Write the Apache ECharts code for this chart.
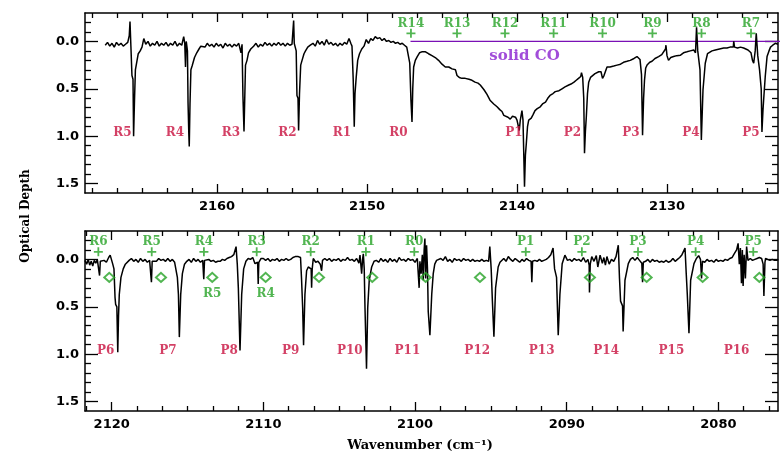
<!DOCTYPE html>
<html><head><meta charset="utf-8">
<script src="https://cdn.jsdelivr.net/npm/echarts@6/dist/echarts.min.js"></script>
<style>html,body{margin:0;padding:0;background:#fff}#c{width:780px;height:455px}</style>
</head><body><div id="c"></div>
<script>
// ---------- DATA ----------
const topTicks = [2160, 2150, 2140, 2130];
const bottomTicks = [2120, 2110, 2100, 2090, 2080];
const yTicks = [0, 0.5, 1.0, 1.5];

const topSpectrum = [
[2167.45,0.04],[2167.3,0.01],[2167.15,0.05],[2167.0,0.02],[2166.85,0.06],[2166.7,0.01],[2166.55,0.04],[2166.4,0.02],[2166.25,0.05],[2166.1,0.03],[2165.95,0.01],[2165.85,-0.06],[2165.8,-0.21],[2165.74,0.05],[2165.67,0.36],[2165.6,0.4],[2165.56,1.0],[2165.5,0.62],[2165.44,0.3],[2165.33,0.28],[2165.25,0.13],[2165.12,0.1],[2165.0,0.06],[2164.88,-0.03],
[2164.75,0.03],[2164.6,0.0],[2164.45,0.05],[2164.3,0.02],[2164.15,0.04],[2164.0,0.0],[2163.85,0.05],[2163.7,0.02],[2163.55,0.04],[2163.4,0.01],[2163.25,0.05],[2163.1,0.02],[2162.95,0.04],[2162.8,0.0],[2162.65,0.05],[2162.5,0.02],[2162.35,0.04],[2162.22,-0.05],[2162.15,0.02],[2162.1,0.27],[2162.05,0.0],[2161.97,0.1],[2161.93,0.65],[2161.88,0.97],[2161.85,1.11],[2161.8,0.66],[2161.74,0.3],[2161.66,0.26],[2161.5,0.17],[2161.35,0.12],[2161.2,0.08],[2161.08,0.05],
[2160.95,0.03],[2160.8,0.06],[2160.65,0.02],[2160.5,0.05],[2160.35,0.03],[2160.2,0.06],[2160.05,0.02],[2159.9,0.05],[2159.75,0.03],[2159.6,0.07],[2159.45,0.02],[2159.3,0.05],[2159.15,0.03],[2159.0,0.06],[2158.85,0.03],[2158.7,0.05],[2158.55,0.02],[2158.45,0.04],[2158.4,0.12],[2158.33,0.03],[2158.27,0.58],[2158.2,0.95],[2158.15,0.6],[2158.1,0.25],[2158.0,0.2],[2157.9,0.12],[2157.75,0.08],[2157.56,0.05],
[2157.4,0.02],[2157.25,0.06],[2157.1,0.03],[2156.95,0.05],[2156.8,0.01],[2156.65,0.04],[2156.5,0.02],[2156.35,0.05],[2156.2,0.02],[2156.05,0.04],[2155.9,0.01],[2155.75,0.04],[2155.6,0.02],[2155.45,0.05],[2155.3,0.02],[2155.15,0.04],[2155.0,0.03],[2154.92,0.03],[2154.89,-0.22],[2154.85,0.02],[2154.72,0.1],[2154.67,0.57],[2154.6,0.6],[2154.56,0.94],[2154.5,0.55],[2154.42,0.25],[2154.33,0.2],[2154.2,0.13],[2154.1,0.1],[2153.95,0.06],[2153.78,0.04],
[2153.6,0.02],[2153.45,0.05],[2153.3,-0.01],[2153.15,0.03],[2153.0,0.0],[2152.85,0.04],[2152.7,-0.02],[2152.55,0.03],[2152.4,0.01],[2152.25,0.04],[2152.1,0.02],[2151.95,0.05],[2151.8,0.02],[2151.65,0.04],[2151.5,0.01],[2151.35,0.03],[2151.2,-0.03],[2151.08,0.02],[2151.0,0.05],[2150.92,0.4],[2150.85,0.9],[2150.8,0.55],[2150.72,0.38],[2150.62,0.2],[2150.5,0.13],[2150.35,0.08],[2150.2,0.05],
[2150.05,-0.02],[2149.9,0.02],[2149.75,-0.03],[2149.6,-0.01],[2149.45,-0.05],[2149.3,-0.03],[2149.15,-0.04],[2149.0,-0.01],[2148.85,-0.03],[2148.7,0.0],[2148.55,-0.01],[2148.4,0.01],[2148.25,0.0],[2148.1,0.02],[2147.95,0.01],[2147.8,0.03],[2147.65,0.02],[2147.5,0.04],[2147.35,0.06],[2147.22,0.05],[2147.15,0.23],[2147.07,0.62],[2147.0,0.85],[2146.95,0.5],[2146.89,0.27],[2146.78,0.2],[2146.65,0.16],[2146.5,0.12],[2146.35,0.11],
[2146.1,0.11],[2145.9,0.13],[2145.67,0.15],[2145.45,0.17],[2145.23,0.2],[2145.0,0.24],[2144.78,0.27],[2144.55,0.27],[2144.33,0.29],[2144.1,0.3],[2144.0,0.36],[2143.85,0.38],[2143.67,0.39],[2143.45,0.39],[2143.2,0.4],[2143.0,0.41],[2142.8,0.43],[2142.6,0.44],[2142.45,0.46],[2142.2,0.51],[2142.0,0.56],[2141.8,0.62],[2141.55,0.66],[2141.33,0.69],[2141.15,0.72],[2141.0,0.74],[2140.88,0.78],[2140.78,0.8],[2140.6,0.8],[2140.45,0.82],[2140.3,0.79],[2140.1,0.8],[2140.0,0.83],[2139.9,0.83],[2139.85,0.94],[2139.78,0.83],[2139.67,0.73],[2139.6,0.83],[2139.5,1.535],[2139.44,1.2],[2139.38,1.08],[2139.3,0.9],[2139.22,0.83],[2139.05,0.81],[2138.92,0.77],[2138.8,0.73],[2138.65,0.71],[2138.45,0.69],[2138.3,0.66],[2138.1,0.64],[2137.95,0.6],[2137.8,0.57],[2137.6,0.55],[2137.45,0.53],[2137.2,0.52],[2137.0,0.5],[2136.8,0.48],[2136.55,0.46],[2136.4,0.45],[2136.2,0.43],[2136.05,0.41],[2135.9,0.39],[2135.75,0.37],[2135.7,0.33],[2135.62,0.38],[2135.55,0.6],[2135.5,1.18],[2135.44,0.95],[2135.38,0.8],[2135.3,0.55],[2135.22,0.43],[2135.1,0.38],[2135.0,0.37],[2134.8,0.34],[2134.55,0.32],
[2134.4,0.32],[2134.3,0.39],[2134.2,0.36],[2134.0,0.27],[2133.8,0.27],[2133.55,0.26],[2133.33,0.25],[2133.1,0.24],[2132.9,0.22],[2132.67,0.21],[2132.45,0.2],[2132.2,0.18],[2132.0,0.16],[2131.9,0.145],[2131.8,0.19],[2131.7,0.35],[2131.63,0.99],[2131.56,0.6],[2131.5,0.41],[2131.42,0.28],[2131.33,0.25],[2131.15,0.22],[2131.0,0.21],[2130.8,0.18],[2130.56,0.16],[2130.35,0.14],[2130.22,0.13],[2130.1,0.08],[2130.07,0.04],[2130.0,0.15],[2129.9,0.2],[2129.75,0.17],[2129.56,0.16],[2129.35,0.15],[2129.1,0.145],[2128.9,0.12],[2128.67,0.11],[2128.45,0.1],[2128.22,0.09],[2128.1,0.12],[2128.03,-0.15],[2127.95,0.1],[2127.8,0.3],[2127.71,1.04],[2127.64,0.7],[2127.6,0.51],[2127.45,0.23],[2127.3,0.13],[2127.22,0.11],[2127.0,0.1],[2126.78,0.09],[2126.5,0.08],[2126.22,0.07],[2126.0,0.07],[2125.8,0.06],[2125.58,0.06],[2125.55,0.0],[2125.5,0.06],[2125.3,0.07],[2125.1,0.06],[2124.89,0.07],[2124.6,0.09],[2124.4,0.12],[2124.3,0.2],[2124.22,0.23],[2124.12,0.1],[2124.05,-0.085],[2123.95,0.15],[2123.83,0.3],[2123.72,0.5],[2123.67,0.955],[2123.6,0.72],[2123.55,0.6],[2123.45,0.37],[2123.33,0.16],[2123.2,0.1],[2123.1,0.06],[2122.95,0.04],[2122.78,0.02],[2122.6,0.03]
];

const bottomSpectrum = [
[2121.76,0.01],[2121.65,0.05],[2121.55,0.0],[2121.45,0.06],[2121.35,0.02],[2121.25,0.07],[2121.15,0.01],[2121.05,0.04],[2120.95,0.0],[2120.85,0.02],[2120.8,0.17],[2120.75,0.02],[2120.65,0.04],[2120.5,0.01],[2120.35,0.03],[2120.2,-0.02],[2120.1,-0.045],[2120.0,-0.06],[2119.93,0.05],[2119.85,0.1],[2119.78,0.4],[2119.74,0.475],[2119.66,0.5],[2119.6,0.98],[2119.55,0.6],[2119.5,0.37],[2119.39,0.19],[2119.24,0.1],[2119.1,0.05],[2119.0,0.03],
[2118.85,0.01],[2118.7,-0.01],[2118.55,0.02],[2118.4,0.0],[2118.25,0.03],[2118.1,-0.01],[2117.95,0.02],[2117.8,0.0],[2117.65,0.03],[2117.5,0.01],[2117.42,0.02],[2117.38,0.24],[2117.33,0.02],[2117.2,0.0],[2117.05,0.02],[2116.9,-0.01],[2116.75,0.01],[2116.6,0.0],[2116.45,0.02],[2116.3,-0.01],[2116.15,0.02],[2116.0,0.0],[2115.85,0.03],[2115.78,0.05],[2115.67,0.19],[2115.6,0.37],[2115.54,0.82],[2115.45,0.37],[2115.34,0.15],[2115.2,0.05],[2115.05,0.02],
[2114.9,0.0],[2114.75,0.03],[2114.6,-0.01],[2114.45,0.02],[2114.3,0.0],[2114.15,0.03],[2114.0,0.01],[2113.93,0.21],[2113.88,0.01],[2113.75,0.03],[2113.6,0.0],[2113.45,0.02],[2113.3,0.01],[2113.15,0.03],[2113.0,0.02],[2112.85,0.02],[2112.7,0.0],[2112.55,0.01],[2112.4,-0.01],[2112.25,-0.02],[2112.1,-0.03],[2111.95,-0.05],[2111.8,-0.135],[2111.72,0.05],[2111.65,0.3],[2111.54,0.96],[2111.43,0.37],[2111.3,0.1],[2111.15,0.02],[2111.0,-0.01],[2110.85,0.0],[2110.7,-0.02],[2110.55,0.045],[2110.38,0.03],[2110.34,0.26],[2110.3,0.03],[2110.15,-0.01],[2110.0,-0.01],
[2109.85,0.01],[2109.7,-0.01],[2109.55,0.02],[2109.4,0.0],[2109.25,0.01],[2109.1,-0.01],[2108.95,0.02],[2108.8,0.0],[2108.65,0.01],[2108.5,-0.01],[2108.35,0.01],[2108.2,0.0],[2108.05,-0.02],[2107.9,-0.03],[2107.7,-0.03],[2107.55,-0.02],[2107.48,0.22],[2107.41,0.51],[2107.35,0.905],[2107.26,0.37],[2107.15,0.12],[2107.04,0.08],[2106.92,0.06],[2106.85,0.1],[2106.82,0.3],[2106.78,0.1],[2106.71,-0.01],[2106.55,0.03],[2106.4,0.02],[2106.25,0.05],[2106.16,0.12],[2106.1,0.01],
[2105.95,-0.01],[2105.8,0.01],[2105.65,-0.01],[2105.5,0.02],[2105.35,0.0],[2105.2,0.01],[2105.05,-0.01],[2104.9,0.02],[2104.75,0.0],[2104.6,0.01],[2104.45,-0.02],[2104.3,0.01],[2104.15,0.0],[2104.0,0.02],[2103.85,-0.01],[2103.7,0.04],[2103.63,-0.045],[2103.52,0.15],[2103.46,0.0],[2103.41,-0.06],[2103.35,0.1],[2103.3,0.51],[2103.2,1.155],[2103.12,0.51],[2103.02,0.22],[2102.86,0.08],[2102.7,0.02],[2102.55,0.01],
[2102.4,0.03],[2102.25,-0.01],[2102.1,0.02],[2101.95,0.0],[2101.8,0.03],[2101.65,-0.01],[2101.5,0.02],[2101.35,0.0],[2101.2,0.03],[2101.05,-0.02],[2100.9,0.01],[2100.75,0.0],[2100.6,0.02],[2100.45,-0.01],[2100.3,0.01],[2100.15,0.0],[2100.0,0.03],[2099.85,-0.01],[2099.79,-0.03],[2099.73,0.3],[2099.68,0.02],[2099.6,0.15],[2099.52,-0.05],[2099.46,0.22],[2099.4,-0.1],[2099.35,-0.22],[2099.3,0.2],[2099.24,-0.15],[2099.18,0.1],[2099.13,0.55],[2099.08,0.55],[2099.02,0.8],[2098.9,0.37],[2098.8,0.15],[2098.7,0.05],[2098.58,0.01],
[2098.45,0.02],[2098.3,-0.01],[2098.15,0.01],[2098.0,-0.03],[2097.85,0.02],[2097.7,0.0],[2097.55,0.03],[2097.4,-0.01],[2097.25,0.01],[2097.1,0.0],[2096.95,0.02],[2096.8,-0.01],[2096.65,0.01],[2096.5,0.0],[2096.35,0.02],[2096.2,0.0],[2096.05,0.02],[2095.9,0.01],[2095.75,0.02],[2095.6,0.0],[2095.45,0.02],[2095.3,0.01],[2095.15,0.02],[2095.07,-0.135],[2094.98,0.1],[2094.9,0.44],[2094.8,0.815],[2094.69,0.3],[2094.52,0.08],[2094.4,0.03],[2094.3,0.01],
[2094.15,-0.01],[2094.0,0.02],[2093.85,-0.03],[2093.7,0.0],[2093.55,0.02],[2093.4,-0.01],[2093.25,0.01],[2093.1,0.03],[2092.95,0.0],[2092.8,0.02],[2092.65,-0.01],[2092.5,0.01],[2092.35,0.02],[2092.3,0.24],[2092.25,0.02],[2092.1,0.01],[2091.95,0.02],[2091.8,0.0],[2091.65,0.02],[2091.5,0.01],[2091.35,0.0],[2091.2,-0.02],[2091.05,-0.05],[2090.9,-0.12],[2090.8,0.1],[2090.67,0.19],[2090.56,0.8],[2090.45,0.37],[2090.3,0.045],[2090.12,-0.045],
[2089.95,0.01],[2089.8,0.0],[2089.65,0.02],[2089.5,-0.01],[2089.35,0.01],[2089.2,0.0],[2089.05,0.02],[2088.9,-0.02],[2088.75,0.03],[2088.6,0.0],[2088.52,0.06],[2088.5,0.35],[2088.45,0.05],[2088.35,-0.03],[2088.2,0.02],[2088.05,-0.04],[2087.95,0.08],[2087.8,-0.045],[2087.65,0.04],[2087.55,-0.02],[2087.45,0.06],[2087.35,-0.03],[2087.2,0.05],[2087.05,0.0],[2086.9,0.02],[2086.75,-0.03],[2086.6,-0.15],[2086.52,0.2],[2086.45,0.44],[2086.32,0.49],[2086.28,0.76],[2086.16,0.22],[2085.94,0.045],[2085.8,0.0],
[2085.65,-0.02],[2085.5,0.01],[2085.35,-0.02],[2085.2,0.01],[2085.05,0.04],[2085.0,0.24],[2084.95,0.03],[2084.8,0.02],[2084.65,0.0],[2084.5,0.03],[2084.35,0.0],[2084.2,0.02],[2084.05,0.01],[2083.9,0.03],[2083.75,0.02],[2083.6,0.03],[2083.45,0.01],[2083.3,0.03],[2083.15,0.02],[2083.0,-0.01],[2082.85,0.02],[2082.7,0.0],[2082.55,-0.02],[2082.4,-0.05],[2082.2,-0.12],[2082.12,0.15],[2082.05,0.37],[2081.94,0.78],[2081.83,0.22],[2081.61,0.045],[2081.45,-0.01],[2081.3,-0.04],[2081.18,0.0],[2081.11,0.2],[2081.05,0.02],[2080.9,0.03],
[2080.75,0.0],[2080.6,0.02],[2080.45,0.01],[2080.3,0.03],[2080.15,0.0],[2080.0,0.02],[2079.85,0.01],[2079.7,0.02],[2079.55,0.0],[2079.4,0.01],[2079.25,-0.01],[2079.1,-0.02],[2078.95,-0.06],[2078.8,-0.1],[2078.7,-0.17],[2078.62,0.05],[2078.55,-0.12],[2078.48,0.25],[2078.42,-0.1],[2078.37,0.28],[2078.3,-0.05],[2078.22,0.2],[2078.14,-0.135],[2078.05,0.01],[2077.9,-0.01],[2077.75,0.01],[2077.6,0.0],[2077.45,-0.01],[2077.3,-0.02],[2077.15,-0.01],[2077.05,0.05],[2077.0,0.385],[2076.93,0.03],[2076.89,-0.01],[2076.75,0.0],[2076.6,0.01],[2076.45,0.0],[2076.3,0.01],[2076.15,0.01],[2076.05,0.0]
];

const topRedNames = ['R5','R4','R3','R2','R1','R0','P1','P2','P3','P4','P5'];
const topRedWave  = [2166.3,2162.8,2159.07,2155.3,2151.67,2147.9,2140.2,2136.3,2132.4,2128.4,2124.4];
const topGreenNames = ['R14','R13','R12','R11','R10','R9','R8','R7'];
const topGreenWave  = [2147.07,2144.0,2140.8,2137.56,2134.3,2130.97,2127.7,2124.4];
const solidCOLine = [[2147.1,0],[2120.0,0]];
const solidCOText = {name:'solid CO', wave:2139.5, depth:0.16};

const bottomRedNames = ['P6','P7','P8','P9','P10','P11','P12','P13','P14','P15','P16'];
const bottomRedWave  = [2120.4,2116.3,2112.25,2108.2,2104.3,2100.5,2095.9,2091.65,2087.4,2083.1,2078.8];
const bottomGreenNames = ['R6','R5','R4','R3','R2','R1','R0','P1','P2','P3','P4','P5'];
const bottomGreenWave  = [2120.88,2117.36,2113.92,2110.44,2106.88,2103.24,2100.05,2092.7,2089.0,2085.3,2081.5,2077.7];
const bottomDiamondWave = [2120.16,2116.75,2113.37,2109.85,2106.33,2102.82,2099.3,2095.72,2088.47,2084.73,2081.04,2077.3];
const bottomDiamondNames = ['R5','R4'];
const bottomDiamondLabelWave = [2113.37,2109.85];

// ---------- STYLE / LAYOUT ----------
const RED = '#c8103f', GREEN = '#26a226', PURPLE = '#8a1fcf', PURPLE_LINE = '#7a10b5';
const SERIF = '"DejaVu Serif", serif';
const SANS = '"DejaVu Sans", sans-serif';
const Y_MIN = -0.3, Y_MAX = 1.6;
const yMinor = [];
for (let i = -2; i <= 15; i++) { if (i % 5 !== 0) yMinor.push(i / 10); }
function xMinor(min, max) {
  const out = [];
  for (let k = Math.ceil(min * 6 / 10); k <= Math.floor(max * 6 / 10); k++) {
    if (k % 6 !== 0) out.push(k * 10 / 6);
  }
  return out;
}
const black = {color:'#000', width:1.3};

function xAxesFor(grid, min, max, majors) {
  const minors = xMinor(min, max);
  const base = {type:'value', gridIndex:grid, min, max, inverse:true, splitLine:{show:false}};
  return [
    Object.assign({}, base, {position:'bottom',
      axisLine:{show:true, onZero:false, lineStyle:{color:'#000', width:1.5}},
      axisTick:{show:true, inside:true, length:9, customValues:majors, lineStyle:black},
      axisLabel:{show:true, customValues:majors, margin:7, color:'#000', fontFamily:SANS, fontWeight:'bold', fontSize:13, formatter:v=>String(Math.round(v))}}),
    Object.assign({}, base, {position:'bottom',
      axisLine:{show:false, onZero:false},
      axisTick:{show:true, inside:true, length:5, customValues:minors, lineStyle:black},
      axisLabel:{show:false, customValues:minors}}),
    Object.assign({}, base, {position:'top',
      axisLine:{show:true, onZero:false, lineStyle:{color:'#000', width:1.5}},
      axisTick:{show:true, inside:true, length:9, customValues:majors, lineStyle:black},
      axisLabel:{show:false, customValues:majors}}),
    Object.assign({}, base, {position:'top',
      axisLine:{show:false, onZero:false},
      axisTick:{show:true, inside:true, length:5, customValues:minors, lineStyle:black},
      axisLabel:{show:false, customValues:minors}})
  ];
}
function yAxesFor(grid) {
  const base = {type:'value', gridIndex:grid, min:Y_MIN, max:Y_MAX, inverse:true, splitLine:{show:false}};
  return [
    Object.assign({}, base, {position:'left',
      axisLine:{show:true, onZero:false, lineStyle:{color:'#000', width:1.5}},
      axisTick:{show:true, inside:true, length:13, customValues:yTicks, lineStyle:black},
      axisLabel:{show:true, customValues:yTicks, margin:6, color:'#000', fontFamily:SANS, fontWeight:'bold', fontSize:13, formatter:v=>v.toFixed(1)}}),
    Object.assign({}, base, {position:'left',
      axisLine:{show:false, onZero:false},
      axisTick:{show:true, inside:true, length:6, customValues:yMinor, lineStyle:black},
      axisLabel:{show:false, customValues:yMinor}}),
    Object.assign({}, base, {position:'right',
      axisLine:{show:true, onZero:false, lineStyle:{color:'#000', width:1.5}},
      axisTick:{show:true, inside:true, length:13, customValues:yTicks, lineStyle:black},
      axisLabel:{show:false, customValues:yTicks}}),
    Object.assign({}, base, {position:'right',
      axisLine:{show:false, onZero:false},
      axisTick:{show:true, inside:true, length:6, customValues:yMinor, lineStyle:black},
      axisLabel:{show:false, customValues:yMinor}})
  ];
}

function textSeries(xi, yi, names, waves, depth, color, size) {
  return {type:'scatter', xAxisIndex:xi, yAxisIndex:yi, symbolSize:1, silent:true, z:5,
    itemStyle:{color:'rgba(0,0,0,0)'},
    label:{show:true, position:'inside', formatter:p=>p.name, color:color, fontFamily:SERIF, fontWeight:'bold', fontSize:size},
    data:names.map((n,i)=>({name:n, value:[waves[i], depth]}))};
}
const PLUS = 'path://M4,0H6V4H10V6H6V10H4V6H0V4H4Z';
function plusSeries(xi, yi, waves, depth) {
  return {type:'scatter', xAxisIndex:xi, yAxisIndex:yi, symbol:PLUS, symbolSize:9, silent:true, z:5,
    itemStyle:{color:GREEN}, data:waves.map(w=>[w, depth])};
}

const chart = echarts.init(document.getElementById('c'), null, {renderer:'canvas'});
chart.setOption({
  animation:false,
  backgroundColor:'#fff',
  grid:[
    {left:85, top:13, width:693, height:180, show:false},
    {left:85, top:231, width:693, height:180, show:false}
  ],
  xAxis: xAxesFor(0, 2122.6, 2168.8, topTicks).concat(xAxesFor(1, 2076.07, 2121.76, bottomTicks)),
  yAxis: yAxesFor(0).concat(yAxesFor(1)),
  graphic:[
    {type:'text', x:26, y:216, rotation:Math.PI/2,
      style:{text:'Optical Depth', align:'center', verticalAlign:'middle', font:'bold 12px "DejaVu Serif"', fill:'#000'}},
    {type:'text', x:420, y:446,
      style:{text:'Wavenumber (cm\u207B\u00B9)', align:'center', verticalAlign:'middle', font:'bold 13px "DejaVu Serif"', fill:'#000'}}
  ],
  series:[
    {type:'line', xAxisIndex:0, yAxisIndex:0, data:solidCOLine, symbol:'none', silent:true, clip:true,
      lineStyle:{color:PURPLE_LINE, width:1.2}, z:2},
    {type:'line', xAxisIndex:0, yAxisIndex:0, data:topSpectrum, symbol:'none', silent:true, clip:true,
      lineStyle:{color:'#000', width:1.5}, z:3},
    textSeries(0, 0, topRedNames, topRedWave, 0.97, RED, 12),
    textSeries(0, 0, topGreenNames, topGreenWave, -0.18, GREEN, 12),
    plusSeries(0, 0, topGreenWave, -0.085),
    textSeries(0, 0, [solidCOText.name], [solidCOText.wave], solidCOText.depth, PURPLE, 15),
    {type:'line', xAxisIndex:4, yAxisIndex:4, data:bottomSpectrum, symbol:'none', silent:true, clip:true,
      lineStyle:{color:'#000', width:1.5}, z:3},
    textSeries(4, 4, bottomRedNames, bottomRedWave, 0.97, RED, 12),
    textSeries(4, 4, bottomGreenNames, bottomGreenWave, -0.19, GREEN, 12),
    plusSeries(4, 4, bottomGreenWave, -0.08),
    {type:'scatter', xAxisIndex:4, yAxisIndex:4, symbol:'diamond', symbolSize:[10,9], silent:true, z:5,
      itemStyle:{color:'rgba(0,0,0,0)', borderColor:GREEN, borderWidth:2},
      data:bottomDiamondWave.map(w=>[w, 0.19])},
    textSeries(4, 4, bottomDiamondNames, bottomDiamondLabelWave, 0.36, GREEN, 12)
  ]
});
</script>
</body></html>
